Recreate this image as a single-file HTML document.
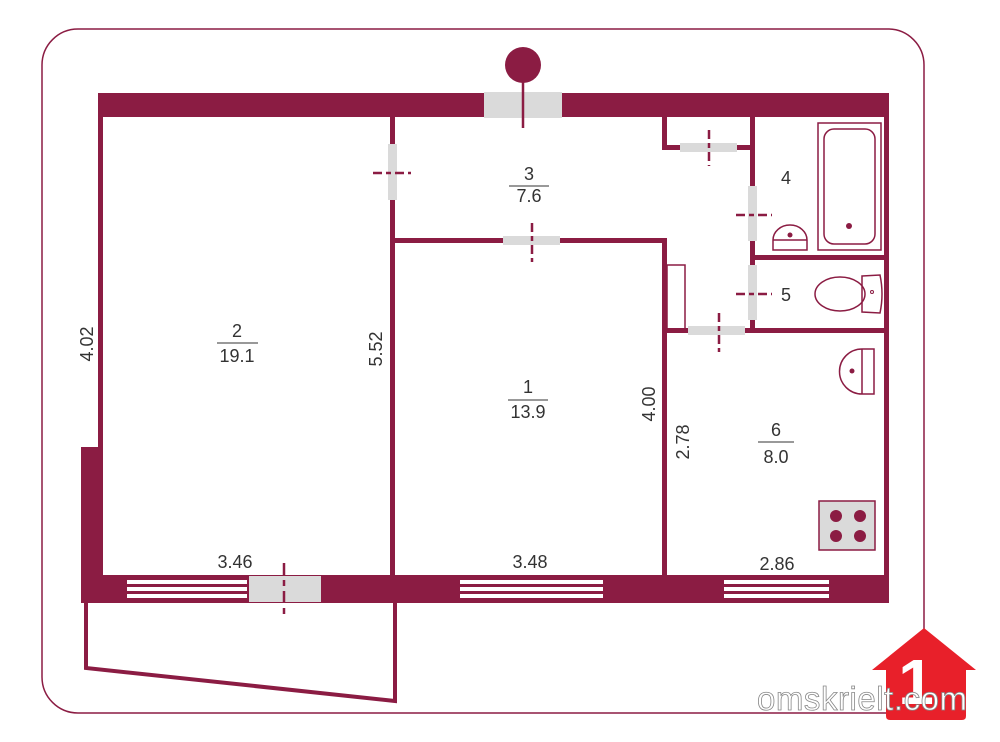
<!DOCTYPE html>
<html><head><meta charset="utf-8"><style>
html,body{margin:0;padding:0;background:#fff;}
svg{display:block}
text{font-family:"Liberation Sans",sans-serif;fill:#333;}
</style></head><body>
<svg width="1000" height="742" viewBox="0 0 1000 742" xmlns="http://www.w3.org/2000/svg">
<defs>
<style>.w{fill:#8b1c43}.g{fill:#dadada}.s{stroke:#8b1c43;fill:none}</style>
</defs>
<rect x="42" y="29" width="882" height="684" rx="36" class="s" stroke-width="1.5"/>
<rect class="w" x="98" y="93" width="791" height="24"/>
<rect class="g" x="484" y="92" width="78" height="26"/>
<circle cx="523" cy="65" r="18" class="w"/>
<line x1="523" y1="80" x2="523" y2="128" class="s" stroke-width="2.5"/>
<rect class="w" x="98" y="93" width="5" height="510"/>
<rect class="w" x="81" y="447" width="22" height="156"/>
<rect class="w" x="884" y="93" width="5" height="510"/>
<rect class="w" x="81" y="575" width="808" height="28"/>
<rect class="g" x="249" y="576" width="72" height="26"/>
<g fill="#fff">
<rect x="127" y="580" width="120" height="4"/><rect x="127" y="587" width="120" height="4"/><rect x="127" y="594" width="120" height="4"/>
<rect x="460" y="580" width="143" height="4"/><rect x="460" y="587" width="143" height="4"/><rect x="460" y="594" width="143" height="4"/>
<rect x="724" y="580" width="105" height="4"/><rect x="724" y="587" width="105" height="4"/><rect x="724" y="594" width="105" height="4"/>
</g>
<line x1="284" y1="563" x2="284" y2="614" class="s" stroke-width="2.5" stroke-dasharray="12,5,6,5"/>
<polyline points="86,603 86,668 395,701 395,603" class="s" stroke-width="4"/>
<rect class="w" x="390" y="117" width="5" height="460"/>
<rect class="g" x="388" y="144" width="9" height="56"/>
<line x1="373" y1="173" x2="411" y2="173" class="s" stroke-width="2.5" stroke-dasharray="9,4,5,4"/>
<rect class="w" x="395" y="238" width="272" height="5"/>
<rect class="g" x="503" y="236" width="57" height="9"/>
<line x1="532" y1="223" x2="532" y2="262" class="s" stroke-width="2.5" stroke-dasharray="9,4,5,4"/>
<rect class="w" x="662" y="238" width="5" height="340"/>
<rect class="w" x="662" y="117" width="5" height="33"/>
<rect class="w" x="662" y="145" width="93" height="5"/>
<rect class="g" x="680" y="143" width="57" height="9"/>
<line x1="709" y1="130" x2="709" y2="166" class="s" stroke-width="2.5" stroke-dasharray="9,4,5,4"/>
<rect class="w" x="750" y="117" width="5" height="216"/>
<rect class="g" x="748" y="186" width="9" height="55"/>
<rect class="g" x="748" y="265" width="9" height="55"/>
<line x1="736" y1="215" x2="772" y2="215" class="s" stroke-width="2.5" stroke-dasharray="9,4,5,4"/>
<line x1="736" y1="294" x2="772" y2="294" class="s" stroke-width="2.5" stroke-dasharray="9,4,5,4"/>
<rect class="w" x="755" y="255" width="134" height="5"/>
<rect class="w" x="665" y="328" width="224" height="5"/>
<rect class="g" x="688" y="326" width="57" height="9"/>
<line x1="719" y1="313" x2="719" y2="352" class="s" stroke-width="2.5" stroke-dasharray="9,4,5,4"/>
<rect x="667" y="265" width="18" height="65" class="s" stroke-width="1.5"/>
<rect x="818" y="123" width="63" height="127" class="s" stroke-width="1.5"/>
<rect x="824" y="129" width="51" height="115" rx="10" class="s" stroke-width="1.5"/>
<circle cx="849" cy="226" r="3" class="w"/>
<path d="M773,250 L773,240 A17,15 0 0 1 807,240 L807,250 Z M773,240 L807,240" class="s" stroke-width="1.5"/>
<circle cx="790" cy="235" r="2.5" class="w"/>
<ellipse cx="840" cy="294" rx="25" ry="17" class="s" stroke-width="1.5" fill="#fff"/>
<path d="M862,276 L880,275 Q884,294 880,313 L862,312 Z" class="s" stroke-width="1.5" fill="#fff"/>
<circle cx="872" cy="292" r="1.5" class="s"/>
<path d="M862,349 L862,394 A22,22 0 0 1 862,349 Z M862,349 L874,349 L874,394 L862,394" class="s" stroke-width="1.5"/>
<circle cx="852" cy="371" r="2.5" class="w"/>
<rect x="819" y="501" width="56" height="49" fill="#dadada" stroke="#8b1c43" stroke-width="1.5"/>
<circle cx="836" cy="516" r="6" class="w"/><circle cx="860" cy="516" r="6" class="w"/>
<circle cx="836" cy="536" r="6" class="w"/><circle cx="860" cy="536" r="6" class="w"/>
<g font-size="18" text-anchor="middle">
<text x="237" y="337">2</text><line x1="217" y1="343" x2="258" y2="343" stroke="#333"/><text x="237" y="362">19.1</text>
<text x="529" y="180">3</text><line x1="509" y1="186" x2="549" y2="186" stroke="#333"/><text x="529" y="202">7.6</text>
<text x="528" y="393">1</text><line x1="508" y1="400" x2="548" y2="400" stroke="#333"/><text x="528" y="418">13.9</text>
<text x="776" y="436">6</text><line x1="758" y1="442" x2="794" y2="442" stroke="#333"/><text x="776" y="463">8.0</text>
<text x="786" y="184">4</text>
<text x="786" y="301">5</text>
<text x="235" y="568">3.46</text>
<text x="530" y="568">3.48</text>
<text x="777" y="570">2.86</text>
<text transform="translate(93,344) rotate(-90)">4.02</text>
<text transform="translate(382,349) rotate(-90)">5.52</text>
<text transform="translate(655,404) rotate(-90)">4.00</text>
<text transform="translate(689,442) rotate(-90)">2.78</text>
</g>
<path d="M924,628 L976,670 L966,670 L966,716 Q966,720 962,720 L890,720 Q886,720 886,716 L886,670 L872,670 Z" fill="#e8202a"/>
<text x="916" y="704" font-size="64" font-weight="bold" style="fill:#fff" text-anchor="middle">1</text>
<text x="757" y="710" font-size="33" textLength="210" style="fill:#fff;stroke:#888;stroke-width:0.8">omskrielt.com</text>
</svg>
</body></html>
